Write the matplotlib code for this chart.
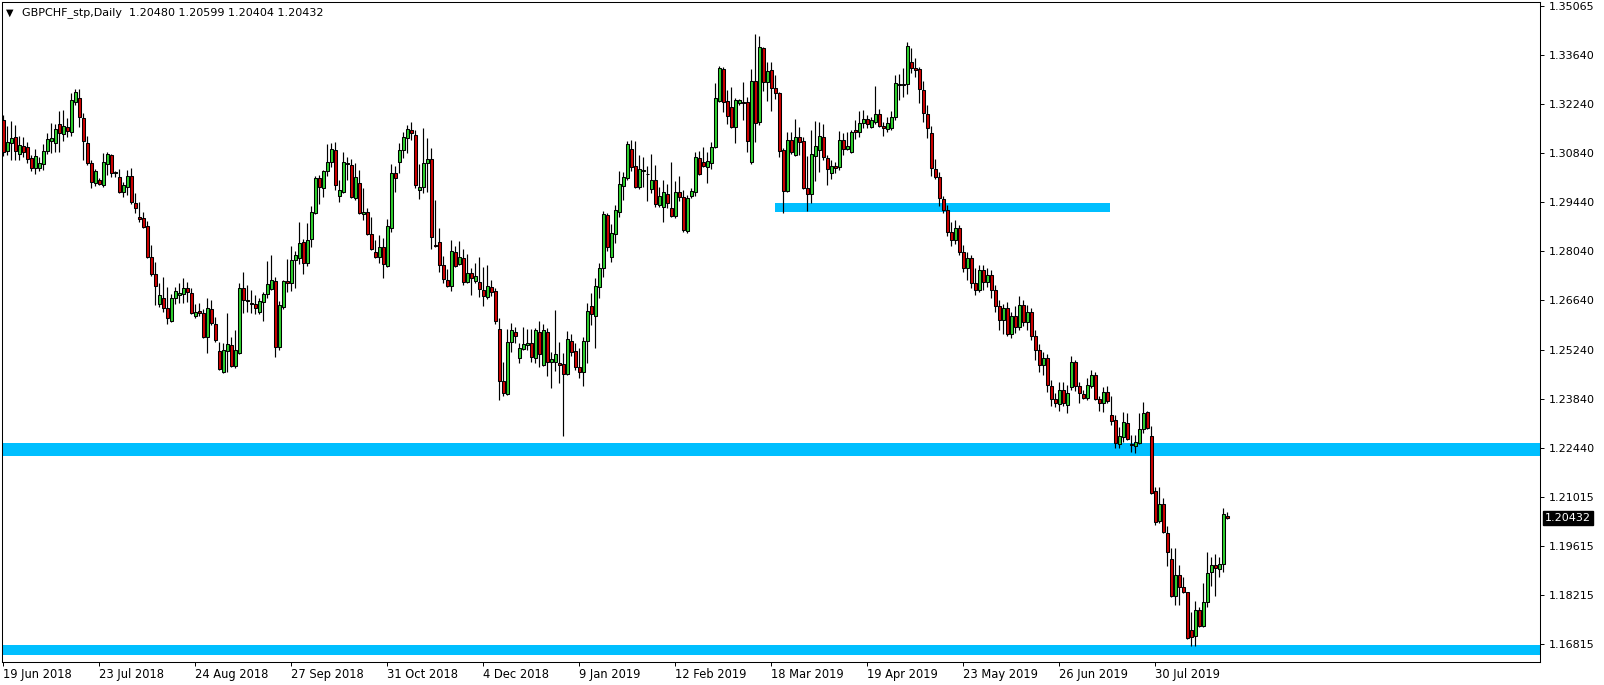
import numpy as np
import pandas as pd
import matplotlib

matplotlib.use("Agg")
import matplotlib.pyplot as plt
import matplotlib.transforms as mtransforms

# GBPCHF daily candles, 19 Jun 2018 .. 23 Aug 2019
opens = [
    1.3180, 1.3091, 1.3114, 1.3131, 1.3082, 1.3105, 1.3102, 1.3071, 1.3042, 1.3042,
    1.3054, 1.3091, 1.3120, 1.3114, 1.3168, 1.3139, 1.3160, 1.3145, 1.3231, 1.3242,
    1.3185, 1.3114, 1.3057, 1.2999, 1.3008, 1.2994, 1.3054, 1.3080, 1.3028, 1.3017,
    1.2974, 1.2988, 1.3020, 1.2942, 1.2902, 1.2900, 1.2877, 1.2788, 1.2740, 1.2654,
    1.2671, 1.2643, 1.2605, 1.2671, 1.2681, 1.2682, 1.2700, 1.2685, 1.2620, 1.2634,
    1.2628, 1.2560, 1.2640, 1.2597, 1.2520, 1.2460, 1.2520, 1.2537, 1.2477, 1.2514,
    1.2700, 1.2665, 1.2657, 1.2654, 1.2631, 1.2660, 1.2682, 1.2697, 1.2720, 1.2531,
    1.2645, 1.2720, 1.2714, 1.2780, 1.2785, 1.2831, 1.2771, 1.2840, 1.2914, 1.3014,
    1.2985, 1.3034, 1.3060, 1.3094, 1.2963, 1.2974, 1.3057, 1.3051, 1.2957, 1.2999,
    1.2911, 1.2917, 1.2854, 1.2802, 1.2788, 1.2817, 1.2762, 1.2871, 1.3028, 1.3060,
    1.3094, 1.3128, 1.3151, 1.3137, 1.2980, 1.2988, 1.3057, 1.3068, 1.2822, 1.2831,
    1.2765, 1.2722, 1.2705, 1.2802, 1.2768, 1.2785, 1.2717, 1.2742, 1.2720, 1.2717,
    1.2694, 1.2674, 1.2702, 1.2691, 1.2583, 1.2434, 1.2397, 1.2545, 1.2574, 1.2500,
    1.2525, 1.2537, 1.2543, 1.2500, 1.2574, 1.2480, 1.2574, 1.2488, 1.2488, 1.2485,
    1.2483, 1.2454, 1.2548, 1.2520, 1.2474, 1.2460, 1.2548, 1.2648, 1.2620, 1.2702,
    1.2757, 1.2908, 1.2788, 1.2854, 1.2917, 1.2991, 1.3014, 1.3097, 1.3048, 1.2988,
    1.3034, 1.3025, 1.2982, 1.3008, 1.2937, 1.2931, 1.2968, 1.2928, 1.2905, 1.2974,
    1.2960, 1.2863, 1.2962, 1.2974, 1.3071, 1.3060, 1.3045, 1.3057, 1.3102, 1.3234,
    1.3325, 1.3234, 1.3217, 1.3160, 1.3228, 1.3231, 1.3231, 1.3060, 1.3291, 1.3174,
    1.3385, 1.3288, 1.3322, 1.3271, 1.3257, 1.3094, 1.2977, 1.3122, 1.3080, 1.3131,
    1.3120, 1.2985, 1.2968, 1.3077, 1.3094, 1.3131, 1.3071, 1.3028, 1.3048, 1.3045,
    1.3122, 1.3097, 1.3088, 1.3151, 1.3145, 1.3171, 1.3182, 1.3160, 1.3174, 1.3197,
    1.3162, 1.3154, 1.3157, 1.3188, 1.3282, 1.3279, 1.3282, 1.3345, 1.3328, 1.3325,
    1.3265, 1.3197, 1.3142, 1.3040, 1.3017, 1.2954, 1.2922, 1.2860, 1.2837, 1.2871,
    1.2802, 1.2757, 1.2785, 1.2714, 1.2694, 1.2751, 1.2717, 1.2737, 1.2694, 1.2648,
    1.2608, 1.2643, 1.2568, 1.2620, 1.2588, 1.2651, 1.2603, 1.2631, 1.2562, 1.2523,
    1.2480, 1.2500, 1.2420, 1.2383, 1.2368, 1.2408, 1.2365, 1.2417, 1.2488, 1.2420,
    1.2397, 1.2385, 1.2420, 1.2451, 1.2383, 1.2371, 1.2403, 1.2337, 1.2323, 1.2254,
    1.2274, 1.2314, 1.2254, 1.2249, 1.2257, 1.2297, 1.2345, 1.2277, 1.2120, 1.2034,
    1.2083, 1.2000, 1.1926, 1.1820, 1.1880, 1.1846, 1.1831, 1.1723, 1.1706, 1.1780,
    1.1734, 1.1803, 1.1889, 1.1909, 1.1897, 1.1911, 1.20480,
]
highs = [
    1.3194, 1.3162, 1.3177, 1.3165, 1.3134, 1.3131, 1.3117, 1.3080, 1.3097, 1.3074,
    1.3111, 1.3142, 1.3171, 1.3168, 1.3205, 1.3208, 1.3185, 1.3257, 1.3268, 1.3268,
    1.3199, 1.3134, 1.3065, 1.3040, 1.3014, 1.3085, 1.3088, 1.3082, 1.3034, 1.3040,
    1.3002, 1.3037, 1.3042, 1.2971, 1.2945, 1.2917, 1.2891, 1.2822, 1.2774, 1.2714,
    1.2731, 1.2702, 1.2682, 1.2702, 1.2714, 1.2728, 1.2717, 1.2700, 1.2654, 1.2657,
    1.2640, 1.2671, 1.2665, 1.2617, 1.2545, 1.2543, 1.2628, 1.2560, 1.2580, 1.2714,
    1.2745, 1.2708, 1.2694, 1.2680, 1.2671, 1.2688, 1.2777, 1.2794, 1.2731, 1.2662,
    1.2722, 1.2782, 1.2820, 1.2805, 1.2888, 1.2840, 1.2885, 1.2934, 1.3020, 1.3022,
    1.3037, 1.3111, 1.3114, 1.3117, 1.3008, 1.3088, 1.3074, 1.3068, 1.3057, 1.3037,
    1.2985, 1.2928, 1.2902, 1.2837, 1.2851, 1.2842, 1.2897, 1.3054, 1.3048, 1.3114,
    1.3145, 1.3165, 1.3174, 1.3151, 1.3054, 1.3157, 1.3128, 1.3100, 1.2951, 1.2871,
    1.2791, 1.2754, 1.2837, 1.2820, 1.2834, 1.2811, 1.2797, 1.2757, 1.2771, 1.2788,
    1.2760, 1.2765, 1.2722, 1.2700, 1.2614, 1.2488, 1.2583, 1.2600, 1.2588, 1.2543,
    1.2588, 1.2583, 1.2583, 1.2585, 1.2605, 1.2597, 1.2585, 1.2517, 1.2637, 1.2545,
    1.2514, 1.2577, 1.2568, 1.2543, 1.2528, 1.2560, 1.2657, 1.2685, 1.2728, 1.2771,
    1.2920, 1.2914, 1.2882, 1.2937, 1.3034, 1.3031, 1.3120, 1.3122, 1.3120, 1.3080,
    1.3074, 1.3048, 1.3082, 1.3051, 1.2988, 1.3008, 1.2997, 1.3060, 1.3005, 1.3020,
    1.2980, 1.2965, 1.2985, 1.3088, 1.3091, 1.3102, 1.3088, 1.3117, 1.3285, 1.3334,
    1.3331, 1.3265, 1.3274, 1.3242, 1.3240, 1.3288, 1.3245, 1.3325, 1.3425, 1.3419,
    1.3388, 1.3345, 1.3345, 1.3308, 1.3259, 1.3100, 1.3145, 1.3145, 1.3182, 1.3160,
    1.3131, 1.3077, 1.3151, 1.3177, 1.3174, 1.3168, 1.3080, 1.3065, 1.3060, 1.3148,
    1.3142, 1.3145, 1.3151, 1.3180, 1.3205, 1.3208, 1.3194, 1.3188, 1.3277, 1.3211,
    1.3174, 1.3188, 1.3205, 1.3308, 1.3311, 1.3328, 1.3402, 1.3385, 1.3357, 1.3331,
    1.3291, 1.3222, 1.3162, 1.3068, 1.3031, 1.2962, 1.2937, 1.2888, 1.2894, 1.2880,
    1.2822, 1.2802, 1.2794, 1.2757, 1.2765, 1.2765, 1.2757, 1.2751, 1.2708, 1.2665,
    1.2654, 1.2660, 1.2631, 1.2648, 1.2677, 1.2665, 1.2651, 1.2643, 1.2580, 1.2540,
    1.2517, 1.2511, 1.2437, 1.2400, 1.2431, 1.2431, 1.2423, 1.2505, 1.2494, 1.2431,
    1.2408, 1.2443, 1.2465, 1.2460, 1.2391, 1.2417, 1.2420, 1.2391, 1.2337, 1.2303,
    1.2345, 1.2343, 1.2280, 1.2280, 1.2343, 1.2374, 1.2348, 1.2306, 1.2131, 1.2131,
    1.2100, 1.2020, 1.1957, 1.1957, 1.1909, 1.1874, 1.1831, 1.1774, 1.1806, 1.1788,
    1.1857, 1.1946, 1.1931, 1.1940, 1.1931, 1.2071, 1.20599,
]
lows = [
    1.3077, 1.3080, 1.3065, 1.3065, 1.3065, 1.3074, 1.3057, 1.3034, 1.3025, 1.3034,
    1.3037, 1.3082, 1.3085, 1.3088, 1.3088, 1.3120, 1.3131, 1.3134, 1.3222, 1.3160,
    1.3065, 1.3051, 1.2985, 1.2991, 1.2994, 1.2988, 1.3022, 1.3017, 1.3017, 1.2971,
    1.2960, 1.2965, 1.2940, 1.2914, 1.2888, 1.2871, 1.2785, 1.2734, 1.2651, 1.2645,
    1.2631, 1.2597, 1.2603, 1.2654, 1.2657, 1.2657, 1.2660, 1.2625, 1.2614, 1.2620,
    1.2557, 1.2514, 1.2594, 1.2545, 1.2465, 1.2457, 1.2460, 1.2474, 1.2471, 1.2511,
    1.2628, 1.2631, 1.2628, 1.2625, 1.2625, 1.2605, 1.2671, 1.2694, 1.2503, 1.2523,
    1.2640, 1.2688, 1.2691, 1.2700, 1.2768, 1.2740, 1.2762, 1.2817, 1.2911, 1.2940,
    1.2960, 1.3020, 1.3045, 1.2980, 1.2945, 1.2971, 1.3008, 1.2957, 1.2951, 1.2911,
    1.2894, 1.2851, 1.2808, 1.2785, 1.2771, 1.2728, 1.2760, 1.2860, 1.2974, 1.3028,
    1.3071, 1.3085, 1.3122, 1.2985, 1.2954, 1.2971, 1.2974, 1.2811, 1.2817, 1.2745,
    1.2714, 1.2702, 1.2691, 1.2760, 1.2765, 1.2708, 1.2714, 1.2680, 1.2714, 1.2674,
    1.2648, 1.2668, 1.2677, 1.2597, 1.2380, 1.2391, 1.2394, 1.2517, 1.2543, 1.2485,
    1.2523, 1.2523, 1.2488, 1.2485, 1.2474, 1.2477, 1.2448, 1.2414, 1.2463, 1.2428,
    1.2277, 1.2451, 1.2506, 1.2465, 1.2443, 1.2420, 1.2485, 1.2594, 1.2528, 1.2671,
    1.2731, 1.2805, 1.2774, 1.2828, 1.2902, 1.2951, 1.3008, 1.3034, 1.2985, 1.2982,
    1.2988, 1.2948, 1.2971, 1.2931, 1.2931, 1.2888, 1.2928, 1.2902, 1.2900, 1.2948,
    1.2860, 1.2857, 1.2957, 1.2963, 1.3022, 1.3045, 1.2999, 1.3040, 1.3100, 1.3231,
    1.3202, 1.3168, 1.3157, 1.3114, 1.3222, 1.3180, 1.3088, 1.3054, 1.3117, 1.3165,
    1.3262, 1.3234, 1.3205, 1.3240, 1.3074, 1.2914, 1.2974, 1.3082, 1.3077, 1.3080,
    1.2982, 1.2920, 1.2942, 1.3005, 1.3031, 1.3065, 1.2994, 1.3011, 1.3028, 1.3037,
    1.3080, 1.3094, 1.3085, 1.3125, 1.3131, 1.3157, 1.3157, 1.3157, 1.3168, 1.3160,
    1.3134, 1.3145, 1.3151, 1.3180, 1.3237, 1.3245, 1.3254, 1.3314, 1.3302, 1.3228,
    1.3174, 1.3128, 1.3020, 1.3011, 1.2934, 1.2914, 1.2848, 1.2820, 1.2825, 1.2794,
    1.2745, 1.2722, 1.2700, 1.2680, 1.2688, 1.2694, 1.2702, 1.2671, 1.2631, 1.2580,
    1.2568, 1.2562, 1.2557, 1.2571, 1.2580, 1.2591, 1.2580, 1.2551, 1.2494, 1.2460,
    1.2451, 1.2403, 1.2363, 1.2360, 1.2348, 1.2363, 1.2343, 1.2408, 1.2406, 1.2371,
    1.2383, 1.2380, 1.2414, 1.2380, 1.2348, 1.2346, 1.2371, 1.2308, 1.2243, 1.2243,
    1.2260, 1.2266, 1.2231, 1.2228, 1.2254, 1.2285, 1.2297, 1.2111, 1.2023, 1.2029,
    1.2000, 1.1906, 1.1817, 1.1794, 1.1794, 1.1829, 1.1697, 1.1677, 1.1677, 1.1731,
    1.1731, 1.1789, 1.1849, 1.1820, 1.1874, 1.1889, 1.20404,
]
closes = [
    1.3088, 1.3117, 1.3128, 1.3091, 1.3108, 1.3088, 1.3068, 1.3042, 1.3077, 1.3057,
    1.3091, 1.3125, 1.3128, 1.3154, 1.3142, 1.3162, 1.3148, 1.3237, 1.3259, 1.3188,
    1.3120, 1.3057, 1.3002, 1.3034, 1.2997, 1.3060, 1.3082, 1.3028, 1.3030, 1.2974,
    1.2994, 1.3020, 1.2945, 1.2928, 1.2897, 1.2874, 1.2788, 1.2740, 1.2705, 1.2680,
    1.2643, 1.2614, 1.2671, 1.2691, 1.2684, 1.2700, 1.2688, 1.2628, 1.2631, 1.2628,
    1.2560, 1.2643, 1.2600, 1.2551, 1.2468, 1.2523, 1.2540, 1.2477, 1.2523, 1.2700,
    1.2665, 1.2662, 1.2655, 1.2643, 1.2662, 1.2682, 1.2711, 1.2722, 1.2531, 1.2651,
    1.2720, 1.2714, 1.2780, 1.2794, 1.2828, 1.2771, 1.2837, 1.2917, 1.3014, 1.2988,
    1.3034, 1.3060, 1.3097, 1.2994, 1.2980, 1.3060, 1.3055, 1.2960, 1.3017, 1.2914,
    1.2917, 1.2854, 1.2811, 1.2788, 1.2817, 1.2768, 1.2877, 1.3028, 1.3014, 1.3094,
    1.3131, 1.3154, 1.3142, 1.2994, 1.2988, 1.3057, 1.3068, 1.2845, 1.2819, 1.2765,
    1.2725, 1.2705, 1.2805, 1.2762, 1.2788, 1.2717, 1.2742, 1.2728, 1.2734, 1.2697,
    1.2677, 1.2705, 1.2688, 1.2605, 1.2434, 1.2400, 1.2545, 1.2580, 1.2562, 1.2528,
    1.2540, 1.2543, 1.2503, 1.2580, 1.2511, 1.2580, 1.2488, 1.2497, 1.2511, 1.2480,
    1.2454, 1.2554, 1.2517, 1.2474, 1.2460, 1.2548, 1.2634, 1.2625, 1.2705, 1.2757,
    1.2911, 1.2817, 1.2857, 1.2922, 1.2997, 1.3017, 1.3111, 1.3045, 1.2988, 1.3040,
    1.3037, 1.3024, 1.3008, 1.2940, 1.2962, 1.2974, 1.2942, 1.2905, 1.2974, 1.2960,
    1.2865, 1.2957, 1.2977, 1.3074, 1.3025, 1.3048, 1.3062, 1.3102, 1.3242, 1.3328,
    1.3231, 1.3191, 1.3160, 1.3237, 1.3237, 1.3229, 1.3120, 1.3291, 1.3171, 1.3388,
    1.3288, 1.3319, 1.3271, 1.3257, 1.3091, 1.2977, 1.3122, 1.3088, 1.3131, 1.3117,
    1.2985, 1.2968, 1.3082, 1.3105, 1.3134, 1.3074, 1.3040, 1.3048, 1.3042, 1.3122,
    1.3097, 1.3105, 1.3145, 1.3145, 1.3171, 1.3182, 1.3168, 1.3180, 1.3197, 1.3162,
    1.3157, 1.3171, 1.3188, 1.3285, 1.3280, 1.3282, 1.3391, 1.3328, 1.3322, 1.3268,
    1.3200, 1.3157, 1.3042, 1.3017, 1.2957, 1.2922, 1.2860, 1.2837, 1.2871, 1.2802,
    1.2757, 1.2785, 1.2714, 1.2694, 1.2751, 1.2717, 1.2737, 1.2694, 1.2648, 1.2608,
    1.2643, 1.2568, 1.2620, 1.2588, 1.2651, 1.2603, 1.2631, 1.2562, 1.2523, 1.2480,
    1.2500, 1.2423, 1.2383, 1.2371, 1.2408, 1.2371, 1.2400, 1.2488, 1.2420, 1.2400,
    1.2385, 1.2423, 1.2451, 1.2383, 1.2371, 1.2403, 1.2377, 1.2320, 1.2257, 1.2277,
    1.2317, 1.2268, 1.2250, 1.2260, 1.2297, 1.2343, 1.2300, 1.2114, 1.2031, 1.2083,
    1.2003, 1.1946, 1.1820, 1.1880, 1.1846, 1.1831, 1.1700, 1.1703, 1.1780, 1.1734,
    1.1803, 1.1886, 1.1909, 1.1900, 1.1911, 1.2054, 1.20432,
]

# trading days (broker closed on 25 Dec and 1 Jan)
first_day, last_day = "2018-06-19", "2019-08-23"
holidays = ["2018-12-25", "2019-01-01"]
date_ticks = ["2018-06-19", "2018-07-23", "2018-08-24", "2018-09-27", "2018-10-31",
              "2018-12-04", "2019-01-09", "2019-02-12", "2019-03-18", "2019-04-19",
              "2019-05-23", "2019-06-26", "2019-07-30"]

price_ticks = [1.35065, 1.33640, 1.32240, 1.30840, 1.29440, 1.28040, 1.26640,
               1.25240, 1.23840, 1.22440, 1.21015, 1.19615, 1.18215, 1.16815]

# drawn zones (low, high) and the bar range of the short one
zone_full = [(1.2221, 1.2256), (1.1652, 1.1681)]
zone_part = (1.2918, 1.2943)
zone_part_bars = (193.0, 276.7)

symbol = "GBPCHF_stp,Daily"

GREEN = "#2ed02e"
RED = "#cc0000"
CYAN = "#00bfff"

W, H = 1604, 685
fig = plt.figure(figsize=(W / 100, H / 100), dpi=100)
ax = fig.add_axes([2 / W, 1 - 662 / H, 1538 / W, 660 / H])

o = np.array(opens)
h = np.array(highs)
l = np.array(lows)
c = np.array(closes)
x = np.arange(len(c))

for lo, hi in zone_full:
    ax.axhspan(lo, hi, color=CYAN, lw=0, zorder=1)
ax.fill_between(zone_part_bars, zone_part[0], zone_part[1], color=CYAN, lw=0, zorder=1)

up = c >= o
ax.vlines(x, l, h, colors="black", linewidth=0.85, zorder=2)
ax.bar(x, np.abs(c - o), bottom=np.minimum(o, c), width=0.68,
       color=np.where(up, GREEN, RED), edgecolor="black", linewidth=0.75, zorder=3)

ax.set_xlim(-0.33, 384.2)
ax.set_ylim(1.16315, 1.35165)

# date axis
days = pd.bdate_range(first_day, last_day)
days = days[~days.isin(pd.to_datetime(holidays))]
tick_pos = [days.get_loc(pd.Timestamp(d)) for d in date_ticks]
tick_txt = [f"{pd.Timestamp(d).day} {pd.Timestamp(d).strftime('%b %Y')}" for d in date_ticks]
ax.set_xticks(tick_pos)
ax.set_xticklabels(tick_txt)
for lab in ax.get_xticklabels():
    lab.set_horizontalalignment("left")
ax.tick_params(axis="x", length=3, width=0.7, pad=1.5, labelsize=8.3, colors="black")

# price axis on the right
ax.yaxis.tick_right()
ax.set_yticks(price_ticks)
ax.set_yticklabels([f"{p:.5f}" for p in price_ticks])
ax.tick_params(axis="y", length=3, width=0.7, pad=3, labelsize=8, colors="black")

for sp in ax.spines.values():
    sp.set_linewidth(0.75)
    sp.set_color("black")

# current price box
trans = mtransforms.blended_transform_factory(ax.transAxes, ax.transData)
ax.text(1 + 5 / 1538, c[-1], f"{c[-1]:.5f}", transform=trans, color="white",
        fontsize=8, va="center", ha="left", clip_on=False,
        bbox=dict(facecolor="black", edgecolor="black", boxstyle="square,pad=0.18"))

# header
fig.text(6 / W, 1 - 13 / H, "\u25bc", fontsize=7, va="center", ha="left")
fig.text(22 / W, 1 - 13 / H,
         f"{symbol}  {o[-1]:.5f} {h[-1]:.5f} {l[-1]:.5f} {c[-1]:.5f}",
         fontsize=8, va="center", ha="left")

fig.savefig("out.png", dpi=100)
